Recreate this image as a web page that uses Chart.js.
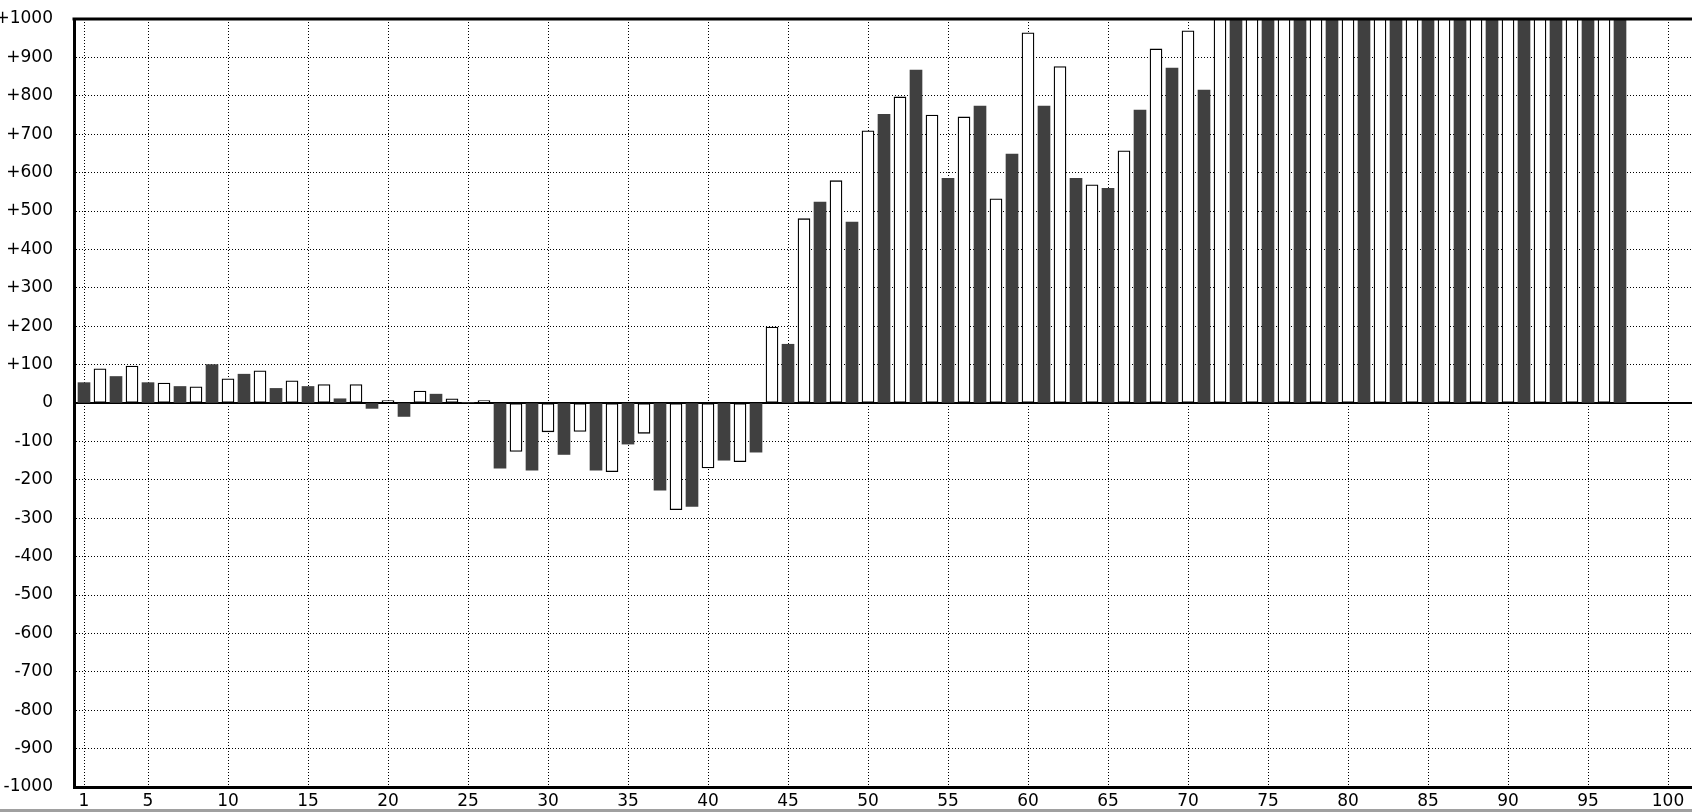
<!DOCTYPE html>
<html>
<head>
<meta charset="utf-8">
<script src="https://cdn.jsdelivr.net/npm/chart.js@4/dist/chart.umd.min.js"></script>
<style>
    html, body { margin: 0; padding: 0; background: #fff; }
    #wrap { width: 1692px; height: 809px; }
    #strip { width: 1692px; height: 3px; background: #a0a0a0; }
</style>
</head>
<body>
<div id="wrap"><canvas id="barChart" width="1692" height="809"></canvas></div>
<div id="strip"></div>
<script>
// ============================================
// DATOS
// ============================================

// valores por posición (1..97); las posiciones 72-97 se salen del gráfico por arriba
const values = [
    53, 89, 69, 96, 53, 52, 43, 42, 100, 63,
    75, 84, 38, 58, 43, 48, 11, 48, -14, 6,
    -35, 31, 23, 11, 1, 6, -170, -126, -175, -75,
    -134, -74, -175, -179, -107, -79, -227, -278, -269, -169,
    -149, -153, -128, 198, 153, 480, 523, 579, 471, 709,
    752, 797, 867, 750, 585, 745, 773, 532, 648, 964,
    773, 876, 585, 568, 559, 657, 763, 922, 872, 969,
    815, 1000, 1000, 1000, 1000, 1000, 1000, 1000, 1000, 1000,
    1000, 1000, 1000, 1000, 1000, 1000, 1000, 1000, 1000, 1000,
    1000, 1000, 1000, 1000, 1000, 1000, 1000
];
const categories = values.map((_, i) => i + 1);

const xTicks = [1, 5, 10, 15, 20, 25, 30, 35, 40, 45, 50, 55, 60, 65, 70, 75, 80, 85, 90, 95, 100];
const yTicks = [-1000, -900, -800, -700, -600, -500, -400, -300, -200, -100, 0,
                100, 200, 300, 400, 500, 600, 700, 800, 900, 1000];

const DARK = '#404040';
const FONT = { family: "'DejaVu Sans', sans-serif", size: 17 };

// ============================================
// LÍNEAS EXTRA (cero y borde superior)
// ============================================

const framePlugin = {
    id: 'frame',
    beforeDatasetsDraw(chart) {
        const { ctx, chartArea, scales } = chart;
        const y0 = scales.y.getPixelForValue(0);
        ctx.save();
        ctx.strokeStyle = '#000';
        ctx.lineWidth = 2;
        ctx.beginPath();
        ctx.moveTo(chartArea.left, y0);
        ctx.lineTo(chartArea.right, y0);
        ctx.stroke();
        ctx.restore();
    },
    afterDatasetsDraw(chart) {
        const { ctx, chartArea } = chart;
        ctx.save();
        ctx.strokeStyle = '#000';
        ctx.lineWidth = 3;
        ctx.beginPath();
        ctx.moveTo(chartArea.left - 1.5, chartArea.top);
        ctx.lineTo(chartArea.right, chartArea.top);
        ctx.stroke();
        ctx.restore();
    }
};

// ============================================
// GRÁFICO
// ============================================

const ctx = document.getElementById('barChart').getContext('2d');
new Chart(ctx, {
    type: 'bar',
    data: {
        datasets: [{
            data: categories.map((c, i) => ({ x: c, y: values[i] })),
            backgroundColor: (c) => (c.dataIndex % 2 === 0 ? DARK : '#ffffff'),
            borderColor: '#000000',
            borderWidth: (c) => (c.dataIndex % 2 === 0 ? 0 : 1.3),
            borderSkipped: false,
            barThickness: 12
        }]
    },
    options: {
        responsive: false,
        animation: false,
        devicePixelRatio: 1,
        layout: { padding: { top: 19, right: 0, bottom: 0, left: 0 } },
        plugins: {
            legend: { display: false },
            tooltip: { enabled: false }
        },
        scales: {
            x: {
                type: 'linear',
                offset: false,
                min: 0.375,
                max: 101.5,
                afterBuildTicks: (scale) => { scale.ticks = xTicks.map(v => ({ value: v })); },
                afterFit: (scale) => {
                    scale.height = 22;
                    scale.paddingLeft = 0;
                    scale.paddingRight = 0;
                },
                ticks: {
                    color: '#000',
                    font: FONT,
                    padding: 4,
                    maxRotation: 0,
                    autoSkip: false,
                    callback: (v) => String(v)
                },
                grid: { color: '#000', lineWidth: 1, drawTicks: false, offset: false },
                border: { display: true, color: '#000', width: 3, dash: [1, 2] }
            },
            y: {
                min: -1000,
                max: 1000,
                afterBuildTicks: (scale) => { scale.ticks = yTicks.map(v => ({ value: v })); },
                afterFit: (scale) => {
                    scale.width = 74;
                    scale.paddingTop = 0;
                    scale.paddingBottom = 0;
                },
                ticks: {
                    color: '#000',
                    font: FONT,
                    padding: 21,
                    autoSkip: false,
                    callback: (v) => (v > 0 ? '+' + v : String(v))
                },
                grid: { color: '#000', lineWidth: 1, drawTicks: false },
                border: { display: true, color: '#000', width: 3, dash: [1, 2] }
            }
        }
    },
    plugins: [framePlugin]
});
</script>
</body>
</html>
